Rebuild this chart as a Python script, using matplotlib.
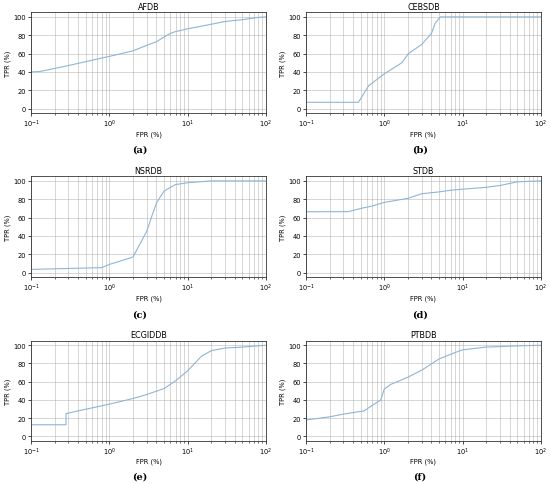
import matplotlib
matplotlib.use('Agg')
import matplotlib.pyplot as plt

# ROC curves (FPR %, TPR %)
afdb_fpr = [0.1, 0.13, 0.3, 1.0, 2.0, 3.0, 4.0, 5.0, 6.0, 7.0, 10.0, 20.0, 30.0, 50.0, 80.0, 100.0]
afdb_tpr = [40, 40.5, 47, 57, 63, 69, 73, 78, 82, 84, 87, 92, 95, 97, 99.5, 100]

cebsdb_fpr = [0.1, 0.467, 0.63, 1.0, 1.67, 2.03, 3.0, 4.0, 4.45, 5.2, 100.0]
cebsdb_tpr = [7, 7, 25, 38, 50, 60, 70, 82, 93, 100, 100]

nsrdb_fpr = [0.1, 0.8, 1.0, 2.0, 3.0, 3.5, 4.0, 5.0, 7.0, 10.0, 20.0, 100.0]
nsrdb_tpr = [3.6, 5.5, 9, 17, 45, 62, 76, 89, 96, 98, 100, 100]

stdb_fpr = [0.1, 0.35, 0.5, 0.7, 1.0, 2.0, 3.0, 5.0, 7.0, 10.0, 20.0, 30.0, 50.0, 100.0]
stdb_tpr = [66.4, 66.5, 70, 72.6, 76.6, 81, 86, 88, 89.8, 91, 93, 95, 99, 100]

ecgiddb_fpr = [0.1, 0.28, 0.28, 0.4, 1.0, 2.0, 3.0, 5.0, 7.0, 10.0, 15.0, 20.0, 30.0, 50.0, 100.0]
ecgiddb_tpr = [12.8, 12.8, 25, 28, 35.4, 41.6, 46, 52.5, 61, 72, 88, 94, 97, 98, 100]

ptbdb_fpr = [0.1, 0.2, 0.3, 0.55, 0.7, 0.9, 1.0, 1.2, 2.0, 3.0, 5.0, 8.0, 10.0, 20.0, 50.0, 100.0]
ptbdb_tpr = [18, 21.5, 24.5, 28, 34, 40, 52, 57, 65, 72.6, 85, 92, 95, 98, 99.3, 100]

names = ['AFDB', 'CEBSDB', 'NSRDB', 'STDB', 'ECGIDDB', 'PTBDB']
captions = ['(a)', '(b)', '(c)', '(d)', '(e)', '(f)']
curves = [(afdb_fpr, afdb_tpr), (cebsdb_fpr, cebsdb_tpr), (nsrdb_fpr, nsrdb_tpr),
          (stdb_fpr, stdb_tpr), (ecgiddb_fpr, ecgiddb_tpr), (ptbdb_fpr, ptbdb_tpr)]

W, H = 550, 485
fig = plt.figure(figsize=(W / 100, H / 100), dpi=100)

lefts = [31, 306]
rows = [(13.3, 114.3, 150), (177.3, 278.3, 315), (341.7, 442, 477)]
cap_x = [140, 420]

for i, (name, cap, (fpr, tpr)) in enumerate(zip(names, captions, curves)):
    r, c = divmod(i, 2)
    top, bot, cy = rows[r]
    ax = fig.add_axes([lefts[c] / W, 1 - bot / H, 235 / W, (bot - top) / H])
    ax.plot(fpr, tpr, color='#8fb5d6', lw=0.8)
    ax.set_xscale('log')
    ax.set_xlim(0.1, 100)
    ax.set_ylim(-5, 105)
    ax.set_yticks([0, 20, 40, 60, 80, 100])
    ax.grid(True, which='both', axis='x', color='#999999', lw=0.5, alpha=0.55)
    ax.grid(True, which='major', axis='y', color='#999999', lw=0.5, alpha=0.55)
    ax.tick_params(labelsize=4.8, length=2, width=0.5, pad=1.5)
    ax.tick_params(which='minor', length=1.2, width=0.4)
    for s in ax.spines.values():
        s.set_linewidth(0.6)
        s.set_color('#333333')
    ax.set_title(name, fontsize=5.8, pad=2.5)
    ax.set_xlabel('FPR (%)', fontsize=4.8, labelpad=0.5)
    ax.set_ylabel('TPR (%)', fontsize=4.8, labelpad=2)
    fig.text(cap_x[c] / W, 1 - cy / H, cap, ha='center', va='center',
             fontsize=7, fontweight='bold', family='serif')

fig.savefig('out.png', dpi=100)
